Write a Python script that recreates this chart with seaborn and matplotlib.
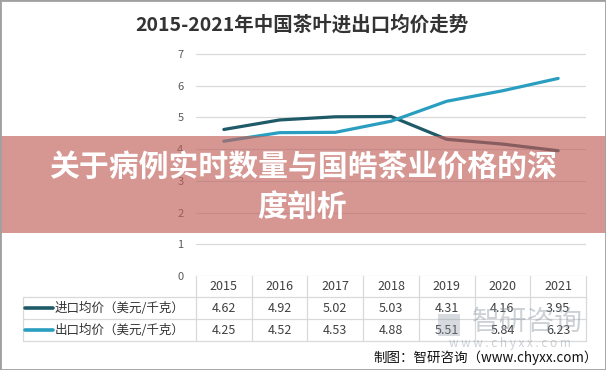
import numpy as np
import pandas as pd
import matplotlib.pyplot as plt
import matplotlib.transforms as mtransforms
from matplotlib.patches import Rectangle
from matplotlib.lines import Line2D
import seaborn as sns

# ---------------- dados ----------------
years = ['2015', '2016', '2017', '2018', '2019', '2020', '2021']
import_price = [4.62, 4.92, 5.02, 5.03, 4.31, 4.16, 3.95]
export_price = [4.25, 4.52, 4.53, 4.88, 5.51, 5.84, 6.23]
series_names = ['进口均价（美元/千克）', '出口均价（美元/千克）']
series_colors = ['#1f5a69', '#2a9ec0']
y_ticks = [0, 1, 2, 3, 4, 5, 6, 7]

title_text = '2015-2021年中国茶叶进出口均价走势'
banner_lines = ['关于病例实时数量与国皓茶业价格的深', '度剖析']
source_text = '制图：智研咨询（www.chyxx.com）'

sns.set_style('white')
plt.rcParams['font.family'] = ['Noto Sans CJK SC', 'DejaVu Sans']

W, H = 606, 370
fig = plt.figure(figsize=(W / 100, H / 100), dpi=100)


def fx(px):
    return px / W


def fy(py):
    return 1 - py / H


# eixo: y=0 em 276px, y=7 em 54px
unit = (276 - 54) / 7
ytop = 7.3
ax = fig.add_axes([fx(196), fy(276), fx(586) - fx(196), (ytop * unit) / H])

pos = np.arange(len(years))
df = pd.DataFrame({
    'pos': np.concatenate([pos, pos]),
    'price': import_price + export_price,
    'series': [series_names[0]] * len(years) + [series_names[1]] * len(years),
})
sns.lineplot(data=df, x='pos', y='price', hue='series',
             palette=dict(zip(series_names, series_colors)),
             linewidth=2.3, legend=False, ax=ax)

ax.set_xlim(-0.5, len(years) - 0.5)
ax.set_ylim(0, ytop)
ax.set_yticks(y_ticks)
ax.set_xticks([])
ax.yaxis.grid(True, color='#d9d9d9', linewidth=0.9)
ax.tick_params(axis='y', length=0, pad=9, labelsize=8, labelcolor='#595959')
ax.set_xlabel('')
ax.set_ylabel('')
for s in ax.spines.values():
    s.set_visible(False)

# ---------------- tabela ----------------
trans = mtransforms.blended_transform_factory(ax.transData, fig.transFigure)
grid_c = '#d9d9d9'
for k in range(len(years) + 1):
    fig.add_artist(Line2D([k - 0.5, k - 0.5], [fy(276), fy(341)], transform=trans,
                          color=grid_c, lw=0.9))
for yy in [297, 319, 341]:
    fig.add_artist(Line2D([fx(23), fx(586)], [fy(yy), fy(yy)], color=grid_c, lw=0.9))
fig.add_artist(Line2D([fx(23), fx(23)], [fy(297), fy(341)], color=grid_c, lw=0.9))

for i, yr in enumerate(years):
    fig.text(i, fy(287), yr, transform=trans, ha='center', va='center',
             fontsize=9, color='#404040')

rows = [import_price, export_price]
row_y = [308, 330]
for name, color, vals, ry in zip(series_names, series_colors, rows, row_y):
    fig.add_artist(Line2D([fx(25), fx(53)], [fy(ry), fy(ry)], color=color, lw=2.6))
    fig.text(fx(55), fy(ry), name, ha='left', va='center', fontsize=9, color='#333333')
    for i, v in enumerate(vals):
        fig.text(i, fy(ry), f'{v:.2f}', transform=trans, ha='center', va='center',
                 fontsize=9, color='#404040')

# ---------------- textos ----------------
fig.text(fx(302), fy(25), title_text, ha='center', va='center', fontsize=14,
         fontweight='bold', color='#333333')
fig.text(fx(598), fy(358), source_text, ha='right', va='center', fontsize=9.7,
         color='#111111')

# marca d'água
fig.add_artist(Rectangle((fx(438), fy(336)), fx(22), 22 / H, transform=fig.transFigure,
                         facecolor='#8f9aa6', edgecolor='none', alpha=0.35, zorder=4))
fig.text(fx(527), fy(322), '智研咨询', ha='center', va='center', fontsize=20,
         color='#8f9aa6', alpha=0.45, zorder=4)
fig.text(fx(510), fy(343), 'w w w . c h y x x . c o m', ha='center', va='center',
         fontsize=8.5, color='#8f9aa6', alpha=0.45, zorder=4)

# faixa sobreposta
fig.add_artist(Rectangle((0, fy(233)), 1, fy(136) - fy(233), transform=fig.transFigure,
                         facecolor='#c0605a', edgecolor='none', alpha=0.65, zorder=5))
fig.text(0.5, fy(167), banner_lines[0], ha='center', va='center', fontsize=21.5,
         fontweight='bold', color='white', zorder=6)
fig.text(fx(302), fy(207), banner_lines[1], ha='center', va='center', fontsize=21.5,
         fontweight='bold', color='white', zorder=6)

# borda
fig.add_artist(Rectangle((0, 0), 1, 1, transform=fig.transFigure, fill=False,
                         edgecolor='#a0a0a0', lw=2, zorder=7))

fig.savefig('out.png', dpi=100)
